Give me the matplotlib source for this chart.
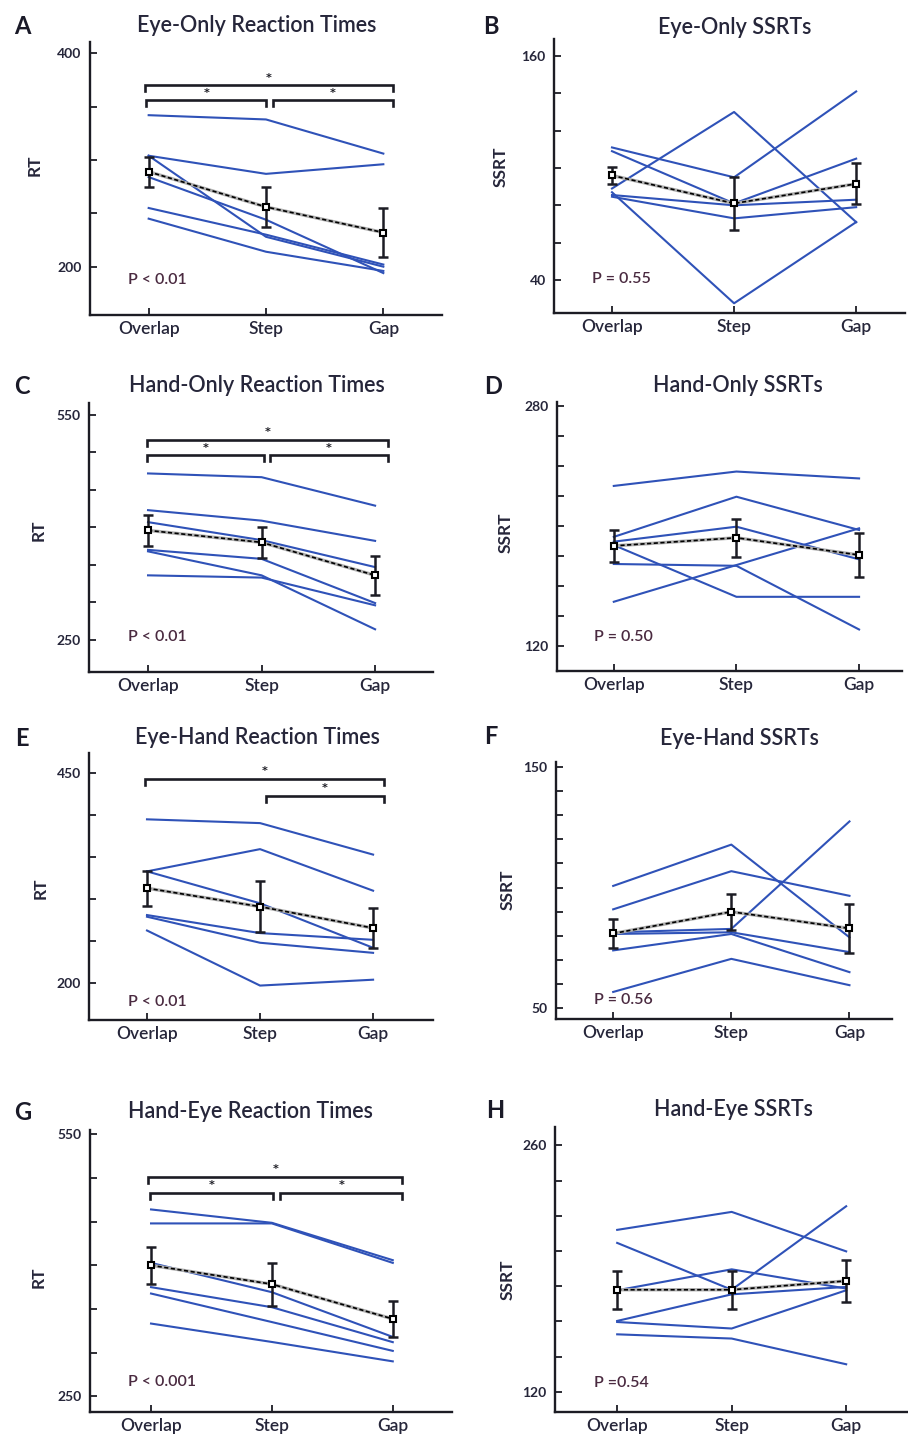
import matplotlib
matplotlib.use("Agg")
import matplotlib.pyplot as plt
import numpy as np

plt.rcParams['font.family'] = ['Lato', 'DejaVu Sans']

# --- Daten ---
conditions = ["Overlap", "Step", "Gap"]

a_subjects = [[342, 338, 306], [304, 287, 296], [304, 228, 200],
              [284, 244, 194], [255, 230, 202], [245, 214, 196]]
a_mean = [289, 256, 232]
a_sem = [14, 19, 23]

b_subjects = [[111, 95, 141], [109, 81, 105], [89, 130, 71],
              [87, 27.5, 71], [85.5, 80, 83], [84.6, 73, 79]]
b_mean = [96, 81, 91.5]
b_sem = [4.5, 14, 11]

c_subjects = [[472, 467, 429], [423, 409, 382], [407, 383, 347],
              [370, 358, 299], [368, 336, 264], [336, 333, 296]]
c_mean = [396, 380, 336]
c_sem = [21, 21, 26]

d_subjects = [[227, 236.6, 232], [193, 219.8, 197.6], [189.8, 199.8, 178],
              [187.5, 153, 153], [174.9, 173.7, 131.2], [149.7, 174.2, 198.7]]
d_mean = [187, 192.4, 180.9]
d_sem = [10.6, 12.7, 15]

e_subjects = [[395, 390.5, 353], [333, 359.5, 310], [333, 295, 242],
              [281, 259.5, 251.5], [279, 248, 236], [262.6, 197, 204]]
e_mean = [313, 291, 265.5]
e_sem = [21, 30, 24]

f_subjects = [[100.7, 117.8, 79.4], [91, 106.8, 96.6], [81.5, 82.9, 127.4],
              [80.8, 81.5, 73.3], [74, 80.8, 65], [56.8, 70.5, 59.6]]
f_mean = [81, 90, 83.1]
f_sem = [6.2, 7.5, 10]

g_subjects = [[464, 448.7, 405.9], [448, 448, 402.8], [402.8, 369.2, 318],
              [375, 352, 312], [367.7, 335, 302], [333.3, 312.2, 290]]
g_mean = [400, 378.4, 338.6]
g_sem = [21, 24.5, 20.6]

h_subjects = [[212, 222.2, 199.8], [204.6, 178, 225.4], [177.7, 189.6, 178.7],
              [160.3, 175.4, 179.6], [159.7, 156, 177.7], [152.7, 150.3, 135.7]]
h_mean = [178, 178, 183]
h_sem = [10.7, 10.9, 11.8]

titles = ["Eye-Only Reaction Times", "Eye-Only SSRTs",
          "Hand-Only Reaction Times", "Hand-Only SSRTs",
          "Eye-Hand Reaction Times", "Eye-Hand SSRTs",
          "Hand-Eye Reaction Times", "Hand-Eye SSRTs"]
letters = ["A", "B", "C", "D", "E", "F", "G", "H"]
p_texts = ["P < 0.01", "P = 0.55", "P < 0.01", "P = 0.50",
           "P < 0.01", "P = 0.56", "P < 0.001", "P =0.54"]
y_labels = ["RT", "SSRT"] * 4

# Signifikanz-Klammern: (x1, x2, y)
a_brackets = [(0.97, 3.08, 370), (0.98, 2.0, 356), (2.06, 3.08, 356)]
c_brackets = [(0.99, 3.11, 517), (0.99, 2.02, 496), (2.07, 3.11, 496)]
e_brackets = [(0.98, 3.1, 443), (2.05, 3.1, 423)]
g_brackets = [(0.975, 3.08, 501), (0.99, 2.01, 483), (2.07, 3.08, 483)]

# --- Layout (Pixel im 908x1437-Bild) ---
W, H = 908, 1437
panels = [
    dict(data=(a_subjects, a_mean, a_sem), rect=(90, 42, 442, 315), xlim=(0.5, 3.5),
         ylim=(154.7, 410.6), yticks=np.arange(200, 401, 50), brackets=a_brackets,
         title=(257, 25), letter=(22, 27), ylab=(35, 165), ptext=(128, 280)),
    dict(data=(b_subjects, b_mean, b_sem), rect=(554, 39, 905, 313), xlim=(0.525, 3.4),
         ylim=(22.3, 169.1), yticks=np.arange(40, 161, 20), brackets=[],
         title=(735, 27), letter=(491, 27), ylab=(501, 167), ptext=(592, 279)),
    dict(data=(c_subjects, c_mean, c_sem), rect=(89, 403, 433, 672), xlim=(0.48, 3.51),
         ylim=(207, 566), yticks=np.arange(250, 551, 50), brackets=c_brackets,
         title=(257, 386), letter=(22, 387), ylab=(39, 530), ptext=(128, 637)),
    dict(data=(d_subjects, d_mean, d_sem), rect=(557, 402, 902, 671), xlim=(0.537, 3.35),
         ylim=(103.5, 283), yticks=np.arange(120, 281, 20), brackets=[],
         title=(738, 385), letter=(493, 387), ylab=(506, 533), ptext=(594, 637)),
    dict(data=(e_subjects, e_mean, e_sem), rect=(89, 753, 433, 1020), xlim=(0.487, 3.53),
         ylim=(156, 474), yticks=np.arange(200, 451, 50), brackets=e_brackets,
         title=(257, 738), letter=(22, 738), ylab=(41, 888), ptext=(128, 1002)),
    dict(data=(f_subjects, f_mean, f_sem), rect=(556, 762, 892, 1019), xlim=(0.516, 3.36),
         ylim=(45.6, 152), yticks=np.arange(50, 151, 10), brackets=[],
         title=(739, 739), letter=(491, 736), ylab=(508, 890), ptext=(594, 1000)),
    dict(data=(g_subjects, g_mean, g_sem), rect=(90, 1130, 452, 1412), xlim=(0.495, 3.49),
         ylim=(232, 555), yticks=np.arange(250, 551, 50), brackets=g_brackets,
         title=(250, 1112), letter=(23, 1112), ylab=(39, 1277), ptext=(128, 1382)),
    dict(data=(h_subjects, h_mean, h_sem), rect=(555, 1127, 908, 1412), xlim=(0.457, 3.54),
         ylim=(108.6, 270.4), yticks=np.arange(120, 261, 20), brackets=[],
         title=(733, 1109), letter=(495, 1110), ylab=(508, 1280), ptext=(594, 1383)),
]

BLUE = "#2f52b8"
INK = "#1c1c24"
TXT = "#26263a"

fig = plt.figure(figsize=(W / 100, H / 100), dpi=100)
fig.patch.set_facecolor("white")


def fx(x):
    return x / W


def fy(y):
    return 1 - y / H


x = np.arange(1, 4)

for i, p in enumerate(panels):
    l, t, r, b = p["rect"]
    ax = fig.add_axes([fx(l), fy(b), (r - l) / W, (b - t) / H])
    subjects, mean, sem = p["data"]

    for s in subjects:
        ax.plot(x, s, color=BLUE, lw=1.5, zorder=2)

    # Mittelwert: graue Linie mit schwarzer Strichlinie darüber
    ax.plot(x, mean, color="#b0b0b0", lw=2.4, zorder=3)
    ax.plot(x, mean, color="black", lw=1.2, dashes=(2.5, 1.5), zorder=4)
    ax.errorbar(x, mean, yerr=sem, fmt="none", ecolor=INK, elinewidth=1.8,
                capsize=3.5, capthick=1.8, zorder=5)
    ax.plot(x, mean, "s", ms=5, mfc="white", mec="black", mew=1.5, zorder=6)

    # Klammern mit Sternchen
    yr = p["ylim"][1] - p["ylim"][0]
    for x1, x2, yb in p["brackets"]:
        d = 0.022 * yr
        ax.plot([x1, x1, x2, x2], [yb - d, yb, yb, yb - d], color=INK, lw=1.9,
                solid_joinstyle="miter", zorder=5)
        ax.text((x1 + x2) / 2, yb + 0.01 * yr, "*", ha="center", va="bottom",
                fontsize=8, fontweight="bold", color=INK, family="DejaVu Sans")

    ax.set_xlim(*p["xlim"])
    ax.set_ylim(*p["ylim"])
    ax.set_xticks(x)
    ax.set_xticklabels(conditions, fontsize=12.5, fontweight="semibold", color=TXT)
    yt = p["yticks"]
    ax.set_yticks(yt)
    ax.set_yticklabels([str(v) if v in (yt[0], yt[-1]) else "" for v in yt],
                       fontsize=10, fontweight="bold", color=TXT)
    ax.tick_params(axis="both", direction="in", length=5, width=1.3, color=INK)
    ax.tick_params(axis="y", pad=6)
    ax.tick_params(axis="x", pad=4)
    for side in ("top", "right"):
        ax.spines[side].set_visible(False)
    for side in ("left", "bottom"):
        ax.spines[side].set_linewidth(1.7)
        ax.spines[side].set_color(INK)
    ax.set_facecolor("none")

    fig.text(fx(p["title"][0]), fy(p["title"][1]), titles[i], ha="center", va="center",
             fontsize=15.5, fontweight="semibold", color=TXT)
    fig.text(fx(p["letter"][0]), fy(p["letter"][1]), letters[i], ha="center", va="center",
             fontsize=17, fontweight="bold", color="#1a1a28")
    fig.text(fx(p["ylab"][0]), fy(p["ylab"][1]), y_labels[i], ha="center", va="center",
             rotation=90, fontsize=12.5, fontweight="bold", color=TXT)
    fig.text(fx(p["ptext"][0]), fy(p["ptext"][1]), p_texts[i], ha="left", va="center",
             fontsize=11.5, fontweight="semibold", color="#4a2a40")

fig.savefig("out.png", dpi=100, facecolor="white")
